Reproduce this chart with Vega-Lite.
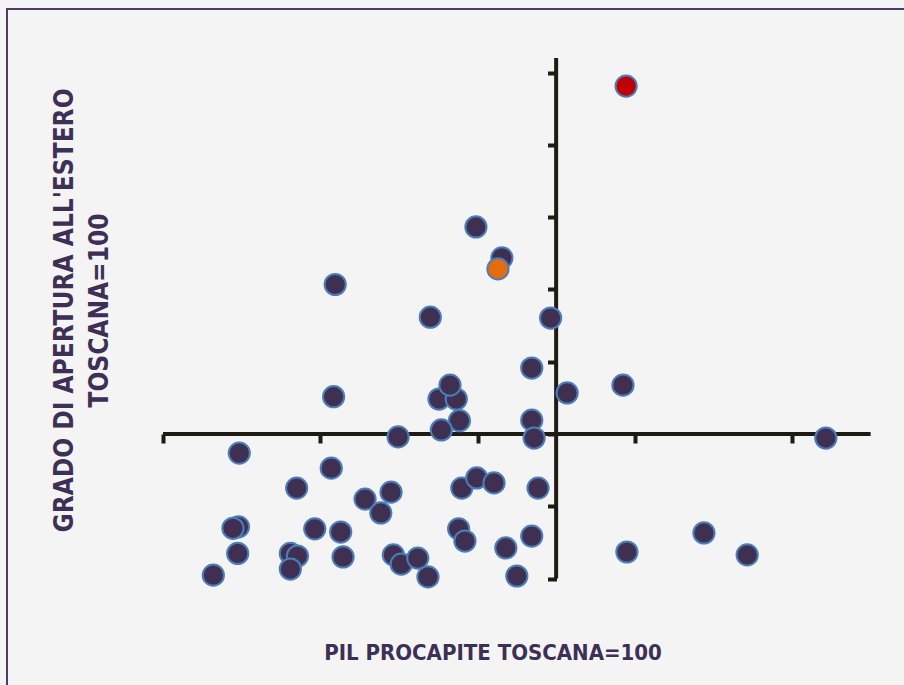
{
  "$schema": "https://vega.github.io/schema/vega-lite/v6.json",
  "width": 898,
  "height": 677,
  "autosize": {"type": "none"},
  "padding": {"left": 7, "top": 9, "right": 0, "bottom": 0},
  "background": "#f4f4f4",
  "config": {
    "view": {"stroke": "#4b3f66", "strokeWidth": 2, "fill": "#f4f4f4"}
  },
  "datasets": {
    "assi": [
      {"x": 50, "x2": 140, "y": 100, "y2": 100},
      {"x": 100, "x2": 100, "y": 50, "y2": 230}
    ],
    "punti": [
      {"pil": 89.8, "apertura": 171.6, "gruppo": "altre"},
      {"pil": 93.1, "apertura": 160.9, "gruppo": "altre"},
      {"pil": 71.9, "apertura": 151.7, "gruppo": "altre"},
      {"pil": 84.0, "apertura": 140.4, "gruppo": "altre"},
      {"pil": 99.3, "apertura": 140.1, "gruppo": "altre"},
      {"pil": 96.9, "apertura": 122.8, "gruppo": "altre"},
      {"pil": 108.5, "apertura": 116.9, "gruppo": "altre"},
      {"pil": 101.4, "apertura": 114.2, "gruppo": "altre"},
      {"pil": 85.1, "apertura": 112.1, "gruppo": "altre"},
      {"pil": 87.3, "apertura": 112.1, "gruppo": "altre"},
      {"pil": 86.5, "apertura": 116.9, "gruppo": "altre"},
      {"pil": 71.7, "apertura": 112.9, "gruppo": "altre"},
      {"pil": 87.7, "apertura": 104.6, "gruppo": "altre"},
      {"pil": 85.4, "apertura": 101.4, "gruppo": "altre"},
      {"pil": 96.9, "apertura": 104.8, "gruppo": "altre"},
      {"pil": 97.2, "apertura": 98.6, "gruppo": "altre"},
      {"pil": 79.9, "apertura": 99.0, "gruppo": "altre"},
      {"pil": 134.3, "apertura": 98.6, "gruppo": "altre"},
      {"pil": 59.7, "apertura": 93.4, "gruppo": "altre"},
      {"pil": 71.4, "apertura": 88.2, "gruppo": "altre"},
      {"pil": 67.0, "apertura": 81.3, "gruppo": "altre"},
      {"pil": 75.7, "apertura": 77.5, "gruppo": "altre"},
      {"pil": 79.0, "apertura": 79.9, "gruppo": "altre"},
      {"pil": 77.7, "apertura": 72.7, "gruppo": "altre"},
      {"pil": 88.0, "apertura": 81.3, "gruppo": "altre"},
      {"pil": 89.9, "apertura": 84.8, "gruppo": "altre"},
      {"pil": 92.1, "apertura": 83.1, "gruppo": "altre"},
      {"pil": 97.7, "apertura": 81.3, "gruppo": "altre"},
      {"pil": 59.6, "apertura": 67.9, "gruppo": "altre"},
      {"pil": 58.9, "apertura": 67.4, "gruppo": "altre"},
      {"pil": 59.5, "apertura": 58.7, "gruppo": "altre"},
      {"pil": 56.4, "apertura": 51.2, "gruppo": "altre"},
      {"pil": 69.3, "apertura": 67.2, "gruppo": "altre"},
      {"pil": 72.6, "apertura": 66.1, "gruppo": "altre"},
      {"pil": 72.9, "apertura": 57.5, "gruppo": "altre"},
      {"pil": 66.2, "apertura": 58.7, "gruppo": "altre"},
      {"pil": 67.1, "apertura": 57.8, "gruppo": "altre"},
      {"pil": 66.2, "apertura": 53.3, "gruppo": "altre"},
      {"pil": 79.3, "apertura": 58.2, "gruppo": "altre"},
      {"pil": 80.3, "apertura": 55.0, "gruppo": "altre"},
      {"pil": 82.4, "apertura": 57.1, "gruppo": "altre"},
      {"pil": 83.7, "apertura": 50.6, "gruppo": "altre"},
      {"pil": 87.6, "apertura": 67.2, "gruppo": "altre"},
      {"pil": 88.4, "apertura": 63.0, "gruppo": "altre"},
      {"pil": 93.6, "apertura": 60.6, "gruppo": "altre"},
      {"pil": 96.9, "apertura": 64.7, "gruppo": "altre"},
      {"pil": 95.0, "apertura": 50.9, "gruppo": "altre"},
      {"pil": 109.0, "apertura": 59.2, "gruppo": "altre"},
      {"pil": 118.8, "apertura": 65.8, "gruppo": "altre"},
      {"pil": 124.3, "apertura": 58.2, "gruppo": "altre"},
      {"pil": 92.6, "apertura": 157.1, "gruppo": "arancio"},
      {"pil": 108.9, "apertura": 220.3, "gruppo": "rosso"}
    ]
  },
  "layer": [
    {
      "data": {"name": "assi"},
      "mark": {"type": "rule", "color": "#1e1b12", "strokeWidth": 4, "strokeCap": "butt"},
      "encoding": {
        "x": {"field": "x", "type": "quantitative"},
        "x2": {"field": "x2"},
        "y": {"field": "y", "type": "quantitative"},
        "y2": {"field": "y2"}
      }
    },
    {
      "data": {"name": "punti"},
      "mark": {"type": "circle", "size": 450, "opacity": 1, "stroke": "#4a7ebb", "strokeWidth": 2},
      "encoding": {
        "x": {
          "field": "pil",
          "type": "quantitative",
          "scale": {"domain": [30.16, 144.37], "nice": false, "zero": false},
          "axis": {
            "orient": "bottom",
            "offset": -252,
            "values": [50, 70, 90, 110, 130],
            "domain": false,
            "labels": false,
            "grid": false,
            "ticks": true,
            "tickSize": 9,
            "tickWidth": 4,
            "tickColor": "#1e1b12",
            "title": "PIL PROCAPITE TOSCANA=100",
            "titleFont": "Liberation Sans Narrow, DejaVu Sans Condensed, Lato, sans-serif",
            "titleFontSize": 22,
            "titleFontWeight": "bold",
            "titleColor": "#3d2f55",
            "titleX": 485.5,
            "titleY": 218,
            "titleAlign": "center",
            "titleBaseline": "middle"
          }
        },
        "y": {
          "field": "apertura",
          "type": "quantitative",
          "scale": {"domain": [12.87, 246.96], "nice": false, "zero": false},
          "axis": {
            "orient": "left",
            "offset": -549.5,
            "values": [50, 75, 100, 125, 150, 175, 200, 225],
            "domain": false,
            "labels": false,
            "grid": false,
            "ticks": true,
            "tickSize": 9,
            "tickWidth": 4,
            "tickColor": "#1e1b12",
            "title": ["GRADO DI APERTURA ALL'ESTERO", "TOSCANA=100"],
            "titleFont": "Liberation Sans Narrow, DejaVu Sans Condensed, Lato, sans-serif",
            "titleFontSize": 26,
            "titleFontWeight": "bold",
            "titleColor": "#3d2f55",
            "titleAngle": 270,
            "titleLineHeight": 35,
            "titleX": -492.5,
            "titleY": 301,
            "titleAlign": "center",
            "titleBaseline": "middle"
          }
        },
        "color": {
          "field": "gruppo",
          "type": "nominal",
          "scale": {"domain": ["altre", "arancio", "rosso"], "range": ["#3f3052", "#e46c0a", "#c00000"]},
          "legend": null
        }
      }
    }
  ]
}
